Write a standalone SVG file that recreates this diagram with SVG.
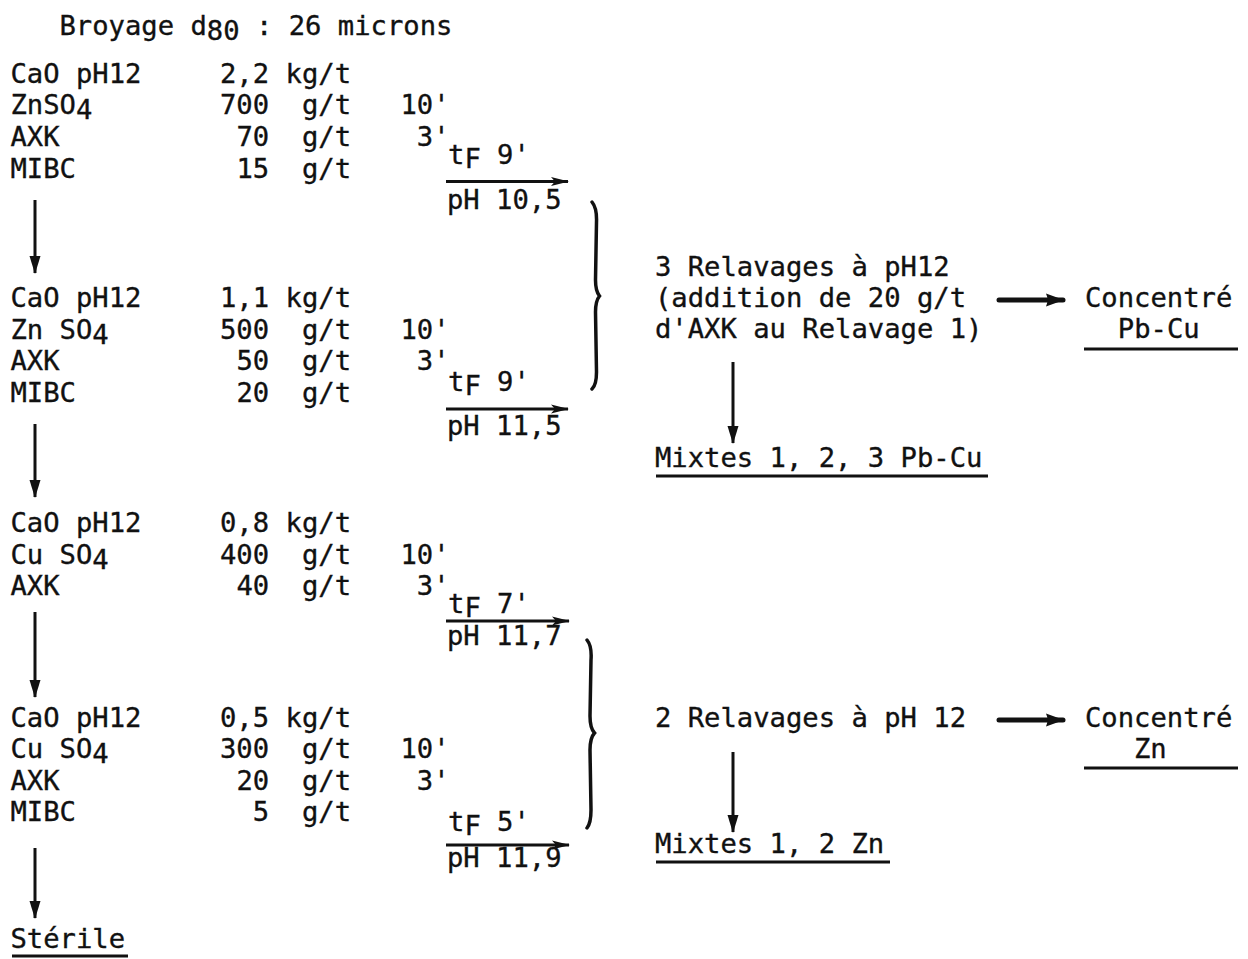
<svg xmlns="http://www.w3.org/2000/svg" width="1248" height="959" viewBox="0 0 1248 959">
<style>
.t{font-family:"DejaVu Sans Mono","Liberation Mono",monospace;font-size:27.2px;fill:#111;stroke:#111;stroke-width:0.35}
.ln{stroke:#111;stroke-width:3;fill:none}
.lnb{stroke:#111;stroke-width:5;fill:none;stroke-linecap:round}
.ul{stroke:#111;stroke-width:3;fill:none}
.br{stroke:#111;stroke-width:3.5;fill:none;stroke-linecap:round}
</style>
<defs>
<marker id="ahv" markerUnits="userSpaceOnUse" markerWidth="18" markerHeight="12" refX="17" refY="6" orient="auto"><path d="M0,0.5 L18,6 L0,11.5 Z" fill="#111"/></marker>
<marker id="ahs" markerUnits="userSpaceOnUse" markerWidth="18" markerHeight="10" refX="17" refY="5" orient="auto"><path d="M0,0.5 L18,5 L0,9.5 L4,5 Z" fill="#111"/></marker>
<marker id="ahh" markerUnits="userSpaceOnUse" markerWidth="18" markerHeight="14" refX="17" refY="7" orient="auto"><path d="M0,0.5 Q3,7 0,13.5 L18,7 Z" fill="#111"/></marker>
</defs>
<rect width="1248" height="959" fill="#fff"/>

<g id="broyage">
<text class="t" x="59.5" y="35">Broyage d<tspan y="40">80</tspan><tspan y="35"> : 26 microns</tspan></text>
</g>

<g id="stage1">
<text class="t" x="10.5" y="83">CaO pH12<tspan x="220">2,2</tspan><tspan x="285.6">kg/t</tspan></text>
<text class="t" x="10.5" y="114">ZnSO<tspan y="119">4</tspan><tspan x="220" y="114">700</tspan><tspan x="302">g/t</tspan><tspan x="400.4">10'</tspan></text>
<text class="t" x="10.5" y="146">AXK<tspan x="236.4">70</tspan><tspan x="302">g/t</tspan><tspan x="416.8">3'</tspan></text>
<text class="t" x="10.5" y="178">MIBC<tspan x="236.4">15</tspan><tspan x="302">g/t</tspan></text>
</g>

<g id="stage2">
<text class="t" x="10.5" y="307">CaO pH12<tspan x="220">1,1</tspan><tspan x="285.6">kg/t</tspan></text>
<text class="t" x="10.5" y="338.5">Zn SO<tspan y="343.5">4</tspan><tspan x="220" y="338.5">500</tspan><tspan x="302">g/t</tspan><tspan x="400.4">10'</tspan></text>
<text class="t" x="10.5" y="370">AXK<tspan x="236.4">50</tspan><tspan x="302">g/t</tspan><tspan x="416.8">3'</tspan></text>
<text class="t" x="10.5" y="401.5">MIBC<tspan x="236.4">20</tspan><tspan x="302">g/t</tspan></text>
</g>

<g id="stage3">
<text class="t" x="10.5" y="532">CaO pH12<tspan x="220">0,8</tspan><tspan x="285.6">kg/t</tspan></text>
<text class="t" x="10.5" y="563.5">Cu SO<tspan y="568.5">4</tspan><tspan x="220" y="563.5">400</tspan><tspan x="302">g/t</tspan><tspan x="400.4">10'</tspan></text>
<text class="t" x="10.5" y="595">AXK<tspan x="236.4">40</tspan><tspan x="302">g/t</tspan><tspan x="416.8">3'</tspan></text>
</g>

<g id="stage4">
<text class="t" x="10.5" y="727">CaO pH12<tspan x="220">0,5</tspan><tspan x="285.6">kg/t</tspan></text>
<text class="t" x="10.5" y="758">Cu SO<tspan y="763">4</tspan><tspan x="220" y="758">300</tspan><tspan x="302">g/t</tspan><tspan x="400.4">10'</tspan></text>
<text class="t" x="10.5" y="789.5">AXK<tspan x="236.4">20</tspan><tspan x="302">g/t</tspan><tspan x="416.8">3'</tspan></text>
<text class="t" x="10.5" y="821">MIBC<tspan x="252.8">5</tspan><tspan x="302">g/t</tspan></text>
</g>

<g id="sterile">
<text class="t" x="10.5" y="948">Stérile</text>
<line class="ul" x1="12" y1="956" x2="128" y2="956"/>
</g>

<g id="flot1-label">
<text class="t" x="448" y="164">t<tspan y="168">F</tspan><tspan y="164"> 9'</tspan></text>
<text class="t" x="447" y="209">pH 10,5</text>
</g>
<g id="flot2-label">
<text class="t" x="448" y="391">t<tspan y="395">F</tspan><tspan y="391"> 9'</tspan></text>
<text class="t" x="447" y="435">pH 11,5</text>
</g>
<g id="flot3-label">
<text class="t" x="448" y="613">t<tspan y="617">F</tspan><tspan y="613"> 7'</tspan></text>
<text class="t" x="447" y="645">pH 11,7</text>
</g>
<g id="flot4-label">
<text class="t" x="448" y="831">t<tspan y="835">F</tspan><tspan y="831"> 5'</tspan></text>
<text class="t" x="447" y="867">pH 11,9</text>
</g>

<g id="relavage-pbcu">
<text class="t" x="655" y="276">3 Relavages à pH12</text>
<text class="t" x="655" y="307">(addition de 20 g/t</text>
<text class="t" x="655" y="338">d'AXK au Relavage 1)</text>
</g>
<g id="concentre-pbcu">
<text class="t" x="1085" y="307">Concentré</text>
<text class="t" x="1117.8" y="338">Pb-Cu</text>
<line class="ul" x1="1084" y1="349" x2="1238" y2="349"/>
</g>
<g id="mixtes-pbcu">
<text class="t" x="655" y="467">Mixtes 1, 2, 3 Pb-Cu</text>
<line class="ul" x1="656" y1="476" x2="988" y2="476"/>
</g>

<g id="relavage-zn">
<text class="t" x="655" y="727">2 Relavages à pH 12</text>
</g>
<g id="concentre-zn">
<text class="t" x="1085" y="727">Concentré</text>
<text class="t" x="1134" y="758">Zn</text>
<line class="ul" x1="1084" y1="768" x2="1238" y2="768"/>
</g>
<g id="mixtes-zn">
<text class="t" x="655" y="853">Mixtes 1, 2 Zn</text>
<line class="ul" x1="656" y1="862" x2="890" y2="862"/>
</g>

<g id="connectors">
<line class="ln" x1="35" y1="200" x2="35" y2="273" marker-end="url(#ahv)"/>
<line class="ln" x1="35" y1="424" x2="35" y2="497" marker-end="url(#ahv)"/>
<line class="ln" x1="35" y1="612" x2="35" y2="697" marker-end="url(#ahv)"/>
<line class="ln" x1="35" y1="848" x2="35" y2="918" marker-end="url(#ahv)"/>

<line class="ln" x1="446" y1="181.5" x2="568" y2="181.5" marker-end="url(#ahs)"/>
<line class="ln" x1="446" y1="409" x2="568" y2="409" marker-end="url(#ahs)"/>
<line class="ln" x1="446" y1="621" x2="569" y2="621" marker-end="url(#ahs)"/>
<line class="ln" x1="446" y1="845" x2="569" y2="845" marker-end="url(#ahs)"/>

<path class="br" d="M592,202 Q597,208 596.5,222 L595.5,280 Q595.5,291 599.5,296 Q595.5,301 595.5,312 L596.5,372 Q596.5,385 592,389"/>
<path class="br" d="M587,640 Q592,646 591,660 L590,716 Q590,728 594.5,733 Q590,738 590,750 L591,810 Q591,823 587,828"/>

<line class="lnb" x1="999" y1="300" x2="1063" y2="300" marker-end="url(#ahh)"/>
<line class="ln" x1="733" y1="362" x2="733" y2="443" marker-end="url(#ahv)"/>
<line class="lnb" x1="999" y1="720" x2="1063" y2="720" marker-end="url(#ahh)"/>
<line class="ln" x1="733" y1="752" x2="733" y2="832" marker-end="url(#ahv)"/>
</g>
</svg>
